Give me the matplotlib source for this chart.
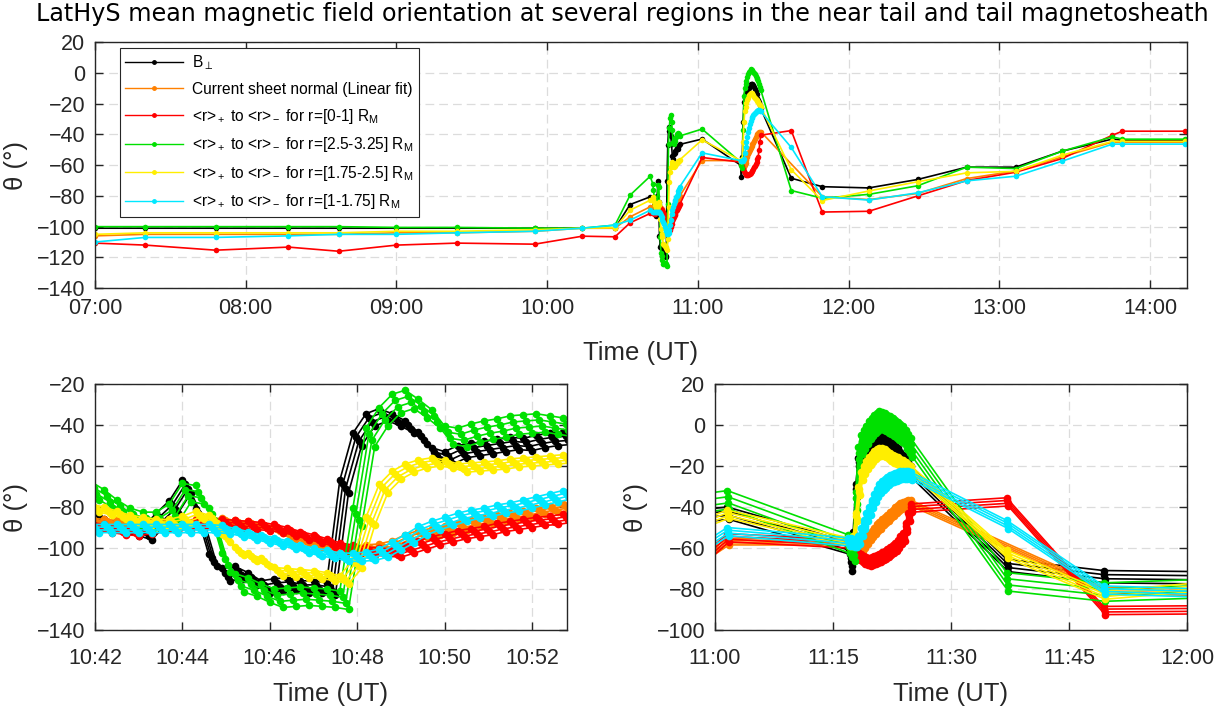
import numpy as np
import matplotlib
matplotlib.use('Agg')
import matplotlib.pyplot as plt
from matplotlib.ticker import FuncFormatter, MultipleLocator
from matplotlib.lines import Line2D

plt.rcParams['font.family'] = ['Liberation Sans', 'DejaVu Sans']
plt.rcParams['mathtext.fontset'] = 'custom'
plt.rcParams['mathtext.rm'] = 'Liberation Sans'
plt.rcParams['mathtext.it'] = 'Liberation Sans:italic'

# --- sample times (UT) ---
times_low = ["07:00:00", "07:20:00", "07:48:00", "08:17:00", "08:37:00", "09:00:00",
             "09:24:00", "09:55:00", "10:14:00", "10:27:00", "10:33:00", "10:41:00",
             "11:01:40",
             "11:37:10", "11:49:30", "12:08:00", "12:27:30", "12:47:00", "13:06:30",
             "13:25:00", "13:45:00", "13:49:00", "14:14:00"]
times_b1 = ["10:42:00", "10:42:18", "10:42:36", "10:42:54", "10:43:12", "10:43:30",
            "10:43:48", "10:44:06", "10:44:24", "10:44:42", "10:45:00", "10:45:18",
            "10:45:36", "10:45:54", "10:46:12", "10:46:30", "10:46:48", "10:47:06",
            "10:47:24", "10:47:42", "10:48:00", "10:48:18", "10:48:36", "10:48:54",
            "10:49:12", "10:49:30", "10:49:48", "10:50:06", "10:50:24", "10:50:42",
            "10:51:00", "10:51:18", "10:51:36", "10:51:54", "10:52:12", "10:52:30",
            "10:52:48"]
times_b2 = ["11:17:00", "11:17:20", "11:17:40", "11:18:00", "11:18:20", "11:18:40",
            "11:19:00", "11:19:20", "11:19:40", "11:20:00", "11:20:20", "11:20:40",
            "11:21:00", "11:21:20", "11:21:40", "11:22:00", "11:22:20", "11:22:40",
            "11:23:00", "11:23:20", "11:23:40", "11:24:00", "11:24:20", "11:24:40",
            "11:25:00"]

# --- theta (deg) per series: low cadence, burst 1, burst 2 ---
bperp_low = [-101, -101, -101, -101, -101, -101, -101, -101, -101, -101, -85.6, -80.6,
             -43, -68.5, -74, -74.8, -69.3, -61.3, -61.3, -50.9, -43, -43.8, -43.8]
bperp_b1 = [-82, -89, -90, -91, -93, -86, -80, -70, -84, -106, -113, -112, -115, -119,
            -118, -117.5, -119, -119, -120, -70, -47, -37.5, -35, -37.5, -41, -46.5,
            -54, -56, -53, -52, -51, -50, -49, -49.5, -48, -47, -46.5]
bperp_b2 = [-60, -68, -55, -32, -19, -16, -14, -13, -12, -11, -9.5, -8, -7.5, -7, -7.5,
            -8, -9, -10.5, -12, -14, -16, -17.5, -19, -21, -23]

csn_low = [-106, -105, -105, -105, -105, -104, -104, -103, -101, -101, -93.6, -87.1,
           -57, np.nan, -80.5, -82.4, -78.4, -68.7, -63.8, -54.6, -45, -45, -45]
csn_b1 = [-87, -87.5, -88, -88, -88, -88, -88, -88, -87.5, -87, -87, -88, -88.5, -89.5,
          -91, -94, -96, -98, -99.5, -100, -100.5, -100, -99.5, -98, -95, -93, -92, -91,
          -89.5, -88, -87, -85.5, -84.5, -83.5, -82, -81, -80]
csn_b2 = [-57, -57.5, -58, -59.5, -61, -60, -58.5, -56.5, -54.5, -53, -51.5, -50, -49,
          -47.5, -46.5, -45.5, -44, -43, -41.5, -40.5, -39.5, -39, -38.5, -38.2, -38.2]

r01_low = [-110.7, -112, -115.3, -113.3, -116, -112, -110.7, -111.4, -106.2, -106.6,
           -97.5, -91.4, -55, -37.5, -90.5, -90, -80, -70, -64.6, -55.7, -40.5, -37.9, -37.9]
r01_b1 = [-89.5, -90.5, -91.5, -92, -91, -90, -89.5, -89, -88.5, -88, -88, -88.5, -89,
          -89.5, -90.5, -92, -94, -95.5, -97.5, -99.5, -100.5, -101.5, -102, -102.5,
          -100.5, -98.5, -96.5, -95, -93.5, -92.5, -91.5, -90, -89, -88, -87, -86.5, -85.5]
r01_b2 = [-58, -59, -60.5, -62.5, -64, -65, -66, -66.5, -66.7, -66.5, -66, -65.5, -65,
          -64, -63.5, -62.5, -61.5, -60.5, -59.5, -58, -56, -54.5, -50, -45, -40.5]

r25_low = [-100, -100, -100, -100, -100, -100.5, -100.5, -101, -101, -99, -79.5, -67.2,
           -36.5, -76.5, -81.5, -79, -73.4, -61.3, -62.2, -50.9, -41.6, -43.1, -43.1]
r25_b1 = [-72, -76, -81, -85, -87, -87, -83, -73, -74, -85, -107, -117, -119, -122,
          -124.5, -124, -123.5, -124, -124.5, -125.5, -85, -46, -36, -29.5, -27.5, -32,
          -37, -45, -46, -44, -42.5, -41.5, -40, -39.5, -39, -40, -41]
r25_b2 = [-58, -60, -62, -37, -15, -9.5, -7, -5, -2.5, -1, 0.5, 1.5, 2.5, 2, 1.5, 0.5,
          0, -1, -2, -3, -4, -5, -7, -9, -11]

r175_low = [-105, -104, -104, -104, -104, -103, -103, -102, -101, -100.7, -89.3, -82.8,
            -43.5, -63, -83, -76.8, -70.8, -65, -64, -53.5, -44.5, -44.5, -44.5]
r175_b1 = [-80.5, -82, -84, -86, -87, -88, -88, -86.5, -84, -86, -95, -101.5, -104.5,
           -107, -111.5, -112, -112.5, -113, -114, -115.5, -108, -87, -71, -64.5, -61,
           -59, -58, -59, -61, -60.5, -60, -59.5, -58.5, -58, -57.5, -57, -56.5]
r175_b2 = [-57, -57, -56, -45, -32, -25, -22, -19.5, -17.5, -16, -14.5, -13.5, -13, -13,
           -13.5, -14.5, -15.5, -16.5, -17, -17.5, -18.5, -19, -20, -21, -22]

r1_low = [-110, -107, -107, -106, -105, -105, -104, -103, -101, -99, -95.8, -89.3,
          -52, -48.5, -80.5, -82.7, -78, -70.2, -67.2, -57.4, -46.3, -46.3, -46.3]
r1_b1 = [-90.5, -90.5, -90.5, -90.5, -90.5, -90.5, -90.5, -90.5, -90.5, -90.5, -91,
         -92.5, -94, -95.5, -97, -98.5, -100.5, -102, -103, -104.5, -104.5, -104, -102.5,
         -99, -95.5, -91.5, -89, -87, -85, -83.5, -82.5, -81, -80, -78.5, -77, -75.5, -74]
r1_b2 = [-57, -57, -57.5, -57.5, -56, -52, -48.5, -45, -42, -38.5, -35.5, -33, -31,
         -29.5, -28.5, -27.5, -26.5, -26, -25.5, -25, -24.5, -24.3, -24.3, -24.5, -25]

# spread of the individual runs shown in the zoomed panels
copy_shift_s = [-6, -2, 2, 6]
bperp_spread = [3, 1, -1, -3]
csn_spread = [1.5, 0.5, -0.5, -1.5]
r01_spread = [2, 0.7, -0.7, -2]
r25_spread = [4.5, 1.5, -1.5, -4.5]
r175_spread = [2, 0.7, -0.7, -2]
r1_spread = [2, 0.7, -0.7, -2]

labels = [r'B$_\perp$',
          'Current sheet normal (Linear fit)',
          '<r>$_+$ to <r>$_-$ for r=[0-1] R$_{\\rm M}$',
          '<r>$_+$ to <r>$_-$ for r=[2.5-3.25] R$_{\\rm M}$',
          '<r>$_+$ to <r>$_-$ for r=[1.75-2.5] R$_{\\rm M}$',
          '<r>$_+$ to <r>$_-$ for r=[1-1.75] R$_{\\rm M}$']
colors = ['black', '#ff8000', '#ff0000', '#00e000', '#ffee00', '#00e8ff']


def to_hours(t):
    h, m, s = (int(p) for p in t.split(':'))
    return h + m / 60 + s / 3600


def assemble(low, b1, b2):
    tl = [to_hours(t) for t in times_low]
    t1 = [to_hours(t) for t in times_b1]
    t2 = [to_hours(t) for t in times_b2]
    t = np.array(tl[:12] + t1 + tl[12:13] + t2 + tl[13:])
    v = np.array(list(low[:12]) + list(b1) + list(low[12:13]) + list(b2) + list(low[13:]), float)
    ok = np.isfinite(v)
    return t[ok], v[ok]


series = [assemble(bperp_low, bperp_b1, bperp_b2),
          assemble(csn_low, csn_b1, csn_b2),
          assemble(r01_low, r01_b1, r01_b2),
          assemble(r25_low, r25_b1, r25_b2),
          assemble(r175_low, r175_b1, r175_b2),
          assemble(r1_low, r1_b1, r1_b2)]
spreads = [bperp_spread, csn_spread, r01_spread, r25_spread, r175_spread, r1_spread]

axis_col = (0.15, 0.15, 0.15)


def hhmm(x, pos):
    total = int(round(x * 60))
    return f"{total // 60:02d}:{total % 60:02d}"


def style(ax, xlim, xstep_min, ylim, xpad, labpad):
    ax.set_xlim(*xlim)
    ax.set_ylim(*ylim)
    ax.xaxis.set_major_locator(MultipleLocator(xstep_min / 60))
    ax.xaxis.set_major_formatter(FuncFormatter(hhmm))
    ax.yaxis.set_major_locator(MultipleLocator(20))
    ax.grid(True, color='#dcdcdc', linestyle=(0, (7, 4)), linewidth=0.9)
    ax.set_axisbelow(True)
    for s in ax.spines.values():
        s.set_color(axis_col)
        s.set_linewidth(1.0)
    ax.tick_params(direction='in', top=True, right=True, length=6, width=1.0,
                   colors=axis_col, labelsize=15.5, pad=7)
    ax.tick_params(axis='x', pad=xpad)
    ax.set_xlabel('Time (UT)', fontsize=18.5, color=axis_col, labelpad=labpad)
    ax.set_ylabel('θ (°)', fontsize=18.5, color=axis_col, labelpad=6)


fig = plt.figure(figsize=(12.26, 7.15), dpi=100)
ax_top = fig.add_axes([0.0775, 0.597, 0.8907, 0.344])
ax_bl = fig.add_axes([0.0775, 0.1189, 0.385, 0.344])
ax_br = fig.add_axes([0.5832, 0.1189, 0.385, 0.344])

for (t, v), c in zip(series, colors):
    ax_top.plot(t, v, '-o', color=c, lw=1.2, markersize=4, markeredgewidth=0)

for ax in (ax_bl, ax_br):
    for (t, v), c, sp in zip(series, colors, spreads):
        for dt, dv in zip(copy_shift_s, sp):
            ax.plot(t + dt / 3600, v + dv, '-o', color=c, lw=1.2, markersize=5.5,
                    markeredgewidth=0)

style(ax_top, (7, 14 + 14.7 / 60), 60, (-140, 20), 7, 16)
style(ax_bl, (10.7, 10 + 52.8 / 60), 2, (-140, -20), 13, 9)
style(ax_br, (11, 12), 15, (-100, 20), 13, 9)

handles = [Line2D([], [], color=c, lw=1.0, marker='o', markersize=2.5) for c in colors]
leg = ax_top.legend(handles, labels, loc='upper left', bbox_to_anchor=(0.0229, 0.976),
                    borderaxespad=0, fontsize=11.2, frameon=True, fancybox=False,
                    framealpha=1, edgecolor=axis_col, handlelength=3.7,
                    labelspacing=0.62, borderpad=0.35, handletextpad=0.6)
leg.get_frame().set_linewidth(0.8)

fig.text(0.508, 1 - 14 / 715,
         'LatHyS mean magnetic field orientation at several regions in the near tail and tail magnetosheath',
         ha='center', va='center', fontsize=17.2, family='DejaVu Sans', color='black')

fig.savefig('out.png', dpi=100)
